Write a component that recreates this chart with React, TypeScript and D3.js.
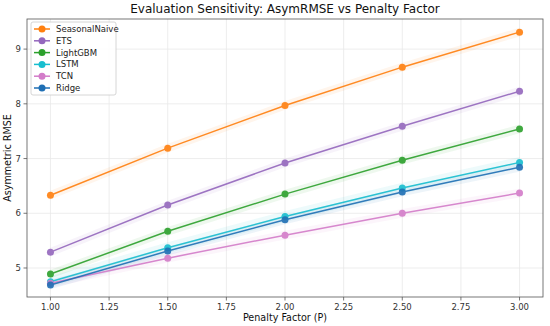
import React from "react";
import * as d3 from "d3";

// penalty factors on the x axis
const penalties = [1.0, 1.5, 2.0, 2.5, 3.0];

// model names, in legend order
const models = ["SeasonalNaive", "ETS", "LightGBM", "LSTM", "TCN", "Ridge"];
const colors = ["#ff7f0e", "#9467bd", "#2ca02c", "#17becf", "#d37cc9", "#1f6fb4"];

// asymmetric RMSE per model
const seasonalNaive = [6.33, 7.19, 7.97, 8.67, 9.31];
const ets = [5.29, 6.15, 6.92, 7.59, 8.23];
const lightGBM = [4.89, 5.67, 6.35, 6.97, 7.54];
const lstm = [4.75, 5.37, 5.94, 6.46, 6.93];
const tcn = [4.72, 5.18, 5.60, 6.00, 6.37];
const ridge = [4.69, 5.31, 5.88, 6.39, 6.84];
const seriesValues = [seasonalNaive, ets, lightGBM, lstm, tcn, ridge];

// half-width of the faint bands around each line
const bandHalf = [0.08, 0.08, 0.08, 0.1, 0.08, 0.08];

const xTicks = [1.0, 1.25, 1.5, 1.75, 2.0, 2.25, 2.5, 2.75, 3.0];
const yTicks = [5, 6, 7, 8, 9];

const width = 550;
const height = 326;
const left = 27;
const right = 543;
const top = 19;
const bottom = 297;
const font = "DejaVu Sans, sans-serif";

const App = () => {
  const x = d3.scaleLinear().domain([0.9, 3.1]).range([left, right]);
  const y = d3.scaleLinear().domain([4.47, 9.55]).range([bottom, top]);

  const line = d3
    .line<number>()
    .x((_, i) => x(penalties[i]))
    .y((d) => y(d));

  return (
    <svg
      width={width}
      height={height}
      style={{ position: "absolute", left: 0, top: 0, background: "#fff" }}
      fontFamily={font}
    >
      {/* grid */}
      {xTicks.map((t) => (
        <line key={"gx" + t} x1={x(t)} x2={x(t)} y1={top} y2={bottom} stroke="#e8e8e8" strokeWidth={0.8} />
      ))}
      {yTicks.map((t) => (
        <line key={"gy" + t} x1={left} x2={right} y1={y(t)} y2={y(t)} stroke="#e8e8e8" strokeWidth={0.8} />
      ))}

      {/* faint bands */}
      {seriesValues.map((vals, k) => {
        const area = d3
          .area<number>()
          .x((_, i) => x(penalties[i]))
          .y0((d) => y(d - bandHalf[k]))
          .y1((d) => y(d + bandHalf[k]));
        return <path key={"b" + k} d={area(vals) || ""} fill={colors[k]} opacity={0.08} />;
      })}

      {/* lines and markers */}
      {seriesValues.map((vals, k) => (
        <g key={"s" + k} opacity={0.9}>
          <path d={line(vals) || ""} fill="none" stroke={colors[k]} strokeWidth={1.5} />
          {vals.map((v, i) => (
            <circle key={i} cx={x(penalties[i])} cy={y(v)} r={3.5} fill={colors[k]} />
          ))}
        </g>
      ))}

      {/* frame */}
      <rect x={left} y={top} width={right - left} height={bottom - top} fill="none" stroke="#555" strokeWidth={0.8} />

      {/* x ticks */}
      {xTicks.map((t) => (
        <g key={"tx" + t}>
          <line x1={x(t)} x2={x(t)} y1={bottom} y2={bottom + 3.5} stroke="#555" strokeWidth={0.8} />
          <text x={x(t)} y={bottom + 13} fontSize={8.5} textAnchor="middle" fill="#333">
            {t.toFixed(2)}
          </text>
        </g>
      ))}
      {/* y ticks */}
      {yTicks.map((t) => (
        <g key={"ty" + t}>
          <line x1={left - 3.5} x2={left} y1={y(t)} y2={y(t)} stroke="#555" strokeWidth={0.8} />
          <text x={left - 6} y={y(t) + 3} fontSize={8.5} textAnchor="end" fill="#333">
            {t}
          </text>
        </g>
      ))}

      {/* labels */}
      <text x={(left + right) / 2} y={13} fontSize={12} textAnchor="middle" fill="#111">
        Evaluation Sensitivity: AsymRMSE vs Penalty Factor
      </text>
      <text x={(left + right) / 2} y={321} fontSize={9.6} textAnchor="middle" fill="#111">
        Penalty Factor (P)
      </text>
      <text
        transform={`translate(11, ${(top + bottom) / 2}) rotate(-90)`}
        fontSize={9.6}
        textAnchor="middle"
        fill="#111"
      >
        Asymmetric RMSE
      </text>

      {/* legend */}
      <rect x={31} y={22} width={85} height={73} rx={2} fill="#fff" fillOpacity={0.85} stroke="#ccc" strokeWidth={0.8} />
      {models.map((m, k) => {
        const ly = 29 + k * 11.8;
        return (
          <g key={"l" + m}>
            <line x1={34} x2={50} y1={ly} y2={ly} stroke={colors[k]} strokeWidth={1.5} />
            <circle cx={42} cy={ly} r={3.5} fill={colors[k]} />
            <text x={56} y={ly + 3} fontSize={8.5} fill="#222">
              {m}
            </text>
          </g>
        );
      })}
    </svg>
  );
};

export default App;
